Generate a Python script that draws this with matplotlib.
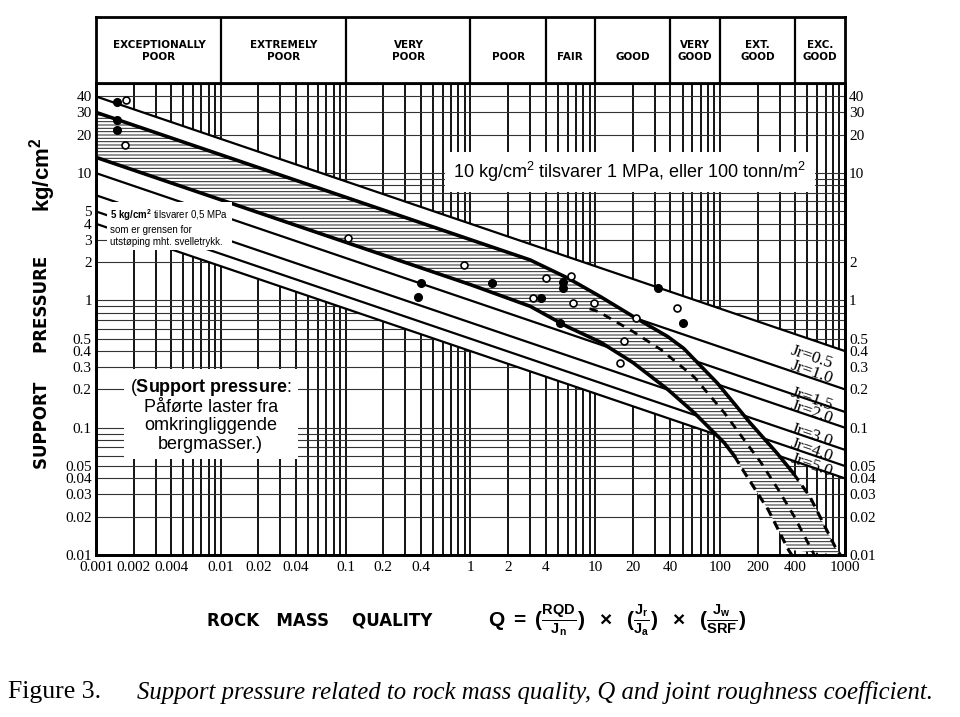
import numpy as np
import matplotlib.pyplot as plt
from matplotlib.ticker import LogLocator, NullFormatter

plt.rcParams['mathtext.fontset'] = 'custom'
plt.rcParams['mathtext.rm'] = 'Liberation Sans'
plt.rcParams['mathtext.it'] = 'Liberation Sans:italic'
plt.rcParams['mathtext.bf'] = 'Liberation Sans:bold'
plt.rcParams['hatch.linewidth'] = 0.7

# rock mass classes (header)
class_edges = [0.01, 0.1, 1, 4, 10, 40, 100, 400]
class_mid = [0.0032, 0.032, 0.32, 2, 6.3, 20, 63, 200, 630]
class_names = ['EXCEPTIONALLY\nPOOR', 'EXTREMELY\nPOOR', 'VERY\nPOOR', 'POOR', 'FAIR',
               'GOOD', 'VERY\nGOOD', 'EXT.\nGOOD', 'EXC.\nGOOD']

# Jr lines, values read at Q = 0.001 and Q = 1000
jr_names = ['0.5', '1.0', '1.5', '2.0', '3.0', '4.0', '5.0']
jr_start = [40, 20, 13.3, 10, 6.7, 5, 4]
jr_end = [0.4, 0.2, 0.133, 0.1, 0.067, 0.05, 0.04]
jr_label_p = [0.36, 0.27, 0.166, 0.131, 0.0865, 0.066, 0.051]

# hatched band (case records envelope)
top_q = [0.001, 1, 3, 6, 11, 20, 38, 51, 95, 174, 286, 385]
top_p = [30, 3.0, 2.08, 1.5, 1.07, 0.75, 0.52, 0.42, 0.224, 0.109, 0.063, 0.044]
top_dash_q = [385, 525, 834, 920]
top_dash_p = [0.044, 0.0286, 0.0116, 0.01]
low_q = [0.001, 1, 3, 6, 11, 20, 38, 62, 80, 108, 130]
low_p = [13.3, 1.33, 0.9, 0.62, 0.47, 0.325, 0.2, 0.131, 0.102, 0.076, 0.06]
low_dash_q = [130, 147, 243, 352, 375]
low_dash_p = [0.06, 0.049, 0.0226, 0.011, 0.01]
mid_q = [9, 10.5, 20, 33.6, 62, 108, 156, 213, 293, 393, 568]
mid_p = [0.86, 0.82, 0.57, 0.41, 0.25, 0.131, 0.08, 0.053, 0.0325, 0.02, 0.01]

# case records
open_q = [0.00174, 0.0017, 0.105, 0.88, 4.0, 6.4, 3.16, 6.6, 9.8, 45, 21, 17, 15.7]
open_p = [37.6, 16.6, 3.08, 1.89, 1.49, 1.55, 1.04, 0.96, 0.96, 0.865, 0.73, 0.48, 0.32]
fill_q = [0.00148, 0.00148, 0.00148, 0.398, 0.38, 1.48, 5.5, 5.5, 3.7, 5.2, 31.8, 50.5]
fill_p = [36, 26, 22, 1.36, 1.06, 1.36, 1.39, 1.26, 1.04, 0.67, 1.26, 0.67]

x_ticks = [0.001, 0.002, 0.004, 0.01, 0.02, 0.04, 0.1, 0.2, 0.4, 1, 2, 4, 10, 20, 40, 100, 200, 400, 1000]
x_labels = ['0.001', '0.002', '0.004', '0.01', '0.02', '0.04', '0.1', '0.2', '0.4', '1', '2', '4',
            '10', '20', '40', '100', '200', '400', '1000']
y_ticks = [40, 30, 20, 10, 5, 4, 3, 2, 1, 0.5, 0.4, 0.3, 0.2, 0.1, 0.05, 0.04, 0.03, 0.02, 0.01]
y_labels = ['40', '30', '20', '10', '5', '4', '3', '2', '1', '0.5', '0.4', '0.3', '0.2', '0.1',
            '0.05', '0.04', '0.03', '0.02', '0.01']
yr_ticks = [40, 30, 20, 10, 2, 1, 0.5, 0.4, 0.3, 0.2, 0.1, 0.05, 0.04, 0.03, 0.02, 0.01]
yr_labels = ['40', '30', '20', '10', '2', '1', '0.5', '0.4', '0.3', '0.2', '0.1',
             '0.05', '0.04', '0.03', '0.02', '0.01']

xlim = (0.001, 1000)
ylim = (0.01, 51)

fig = plt.figure(figsize=(9.6, 7.17), dpi=100)
ax = fig.add_axes([0.1, 0.2259, 0.7802, 0.6583])
ax.set_xscale('log')
ax.set_yscale('log')
ax.set_xlim(xlim)
ax.set_ylim(ylim)

# grid at every 1..9 multiple
ax.xaxis.set_minor_locator(LogLocator(base=10, subs=np.arange(1, 10), numticks=100))
ax.yaxis.set_minor_locator(LogLocator(base=10, subs=np.arange(1, 10), numticks=100))
ax.xaxis.set_minor_formatter(NullFormatter())
ax.yaxis.set_minor_formatter(NullFormatter())
ax.set_axisbelow(True)
ax.grid(True, which='both', axis='x', color='black', lw=1.3)
ax.grid(True, which='both', axis='y', color='#333333', lw=0.8)

ax.set_xticks(x_ticks)
ax.set_xticklabels(x_labels, family='Liberation Serif', fontsize=11)
ax.set_yticks(y_ticks)
ax.set_yticklabels(y_labels, family='Liberation Serif', fontsize=11)
ax.tick_params(which='both', length=0, pad=4)
ax.tick_params(axis='y', pad=3)

# white area between the outer Jr lines
ax.fill_between([xlim[0], xlim[1]], [jr_start[-1], jr_end[-1]], [jr_start[0], jr_end[0]],
                color='white', lw=0, zorder=1)

for s, e in zip(jr_start, jr_end):
    ax.plot([xlim[0], xlim[1]], [s, e], color='black', lw=1.6, zorder=2)

# hatched band
band_q = top_q + top_dash_q[1:] + low_dash_q[::-1][1:] + low_q[::-1]
band_p = top_p + top_dash_p[1:] + low_dash_p[::-1][1:] + low_p[::-1]
ax.fill(band_q, band_p, facecolor='white', edgecolor='#222222', hatch='-----', lw=0, zorder=3)
ax.plot(top_q, top_p, color='black', lw=2.6, zorder=4)
ax.plot(low_q, low_p, color='black', lw=2.6, zorder=4)
ax.plot(top_dash_q, top_dash_p, color='black', lw=2.2, ls=(0, (3, 2)), zorder=4)
ax.plot(low_dash_q, low_dash_p, color='black', lw=2.2, ls=(0, (3, 2)), zorder=4)
ax.plot(mid_q, mid_p, color='black', lw=2.0, ls=(0, (3, 2.5)), zorder=4)

ax.plot(open_q, open_p, 'o', ms=5, mfc='white', mec='black', mew=1.2, zorder=5)
ax.plot(fill_q, fill_p, 'o', ms=5.5, color='black', zorder=5)

for name, yp in zip(jr_names, jr_label_p):
    ax.text(540, yp, 'Jr=' + name, family='Liberation Serif', fontsize=12.5,
            rotation=-19, ha='center', va='center', zorder=6)

for sp in ax.spines.values():
    sp.set_linewidth(2)

# right hand labels
ax2 = ax.twinx()
ax2.set_yscale('log')
ax2.set_ylim(ylim)
ax2.set_yticks(yr_ticks)
ax2.set_yticklabels(yr_labels, family='Liberation Serif', fontsize=11)
ax2.yaxis.set_minor_formatter(NullFormatter())
ax2.tick_params(which='both', length=0, pad=3)
for sp in ax2.spines.values():
    sp.set_linewidth(2)

# header with quality classes
hx = fig.add_axes([0.1, 0.8842, 0.7802, 0.0921])
hx.set_xscale('log')
hx.set_xlim(xlim)
hx.set_ylim(0, 1)
hx.set_xticks([])
hx.set_yticks([])
hx.minorticks_off()
for sp in hx.spines.values():
    sp.set_linewidth(2)
for e in class_edges:
    hx.axvline(e, color='black', lw=1.6)
for m, name in zip(class_mid, class_names):
    yy = 0.485 if '\n' in name else 0.394
    hx.text(m, yy, name, ha='center', va='center', fontsize=7.5, fontweight='bold',
            linespacing=1.35, family='DejaVu Sans')

# notes
ax.text(0.713, 0.811, r'10 kg/cm$^2$ tilsvarer 1 MPa, eller 100 tonn/m$^2$', transform=ax.transAxes,
        ha='center', va='center', family='Liberation Sans', fontsize=13, zorder=10,
        bbox=dict(boxstyle='square,pad=0.45', fc='white', ec='none'))
ax.text(0.019, 0.695, r'$\mathbf{5\ kg/cm^2}$ tilsvarer 0,5 MPa' + '\nsom er grensen for\nutstøping mht. svelletrykk.',
        transform=ax.transAxes, ha='left', va='center', family='Liberation Sans', fontsize=7,
        linespacing=1.25, zorder=10, bbox=dict(boxstyle='square,pad=0.35', fc='white', ec='none'))
ax.text(0.153, 0.297, r'($\mathbf{Support\ pressure}$:' + '\nPåførte laster fra\nomkringliggende\nbergmasser.)',
        transform=ax.transAxes, ha='center', va='center', family='Liberation Sans', fontsize=13,
        linespacing=1.1, zorder=10, bbox=dict(boxstyle='square,pad=0.35', fc='white', ec='none'))

# axis titles
fig.text(0.044, 1 - 362 / 717, 'SUPPORT     PRESSURE', rotation=90, ha='center', va='center',
         fontsize=12, fontweight='bold', family='DejaVu Sans')
fig.text(0.044, 1 - 175 / 717, r'$\mathbf{kg/cm^2}$', rotation=90, ha='center', va='center', fontsize=16)
fig.text(0.216, 1 - 620 / 717, 'ROCK   MASS    QUALITY', ha='left', va='center',
         fontsize=12, fontweight='bold', family='DejaVu Sans')
fig.text(0.643, 1 - 620 / 717,
         r'$\mathbf{Q\ =\ (\frac{RQD}{J_n})\ \ \times\ \ (\frac{J_r}{J_a})\ \ \times\ \ (\frac{J_w}{SRF})}$',
         ha='center', va='center', fontsize=15)

# caption
fig.text(0.008, 1 - 692 / 717, 'Figure 3.', ha='left', va='center', family='Liberation Serif', fontsize=18.5)
fig.text(0.143, 1 - 692 / 717, 'Support pressure related to rock mass quality, Q and joint roughness coefficient.',
         ha='left', va='center', family='Liberation Serif', style='italic', fontsize=17.8)

fig.savefig('out.png', dpi=100)
